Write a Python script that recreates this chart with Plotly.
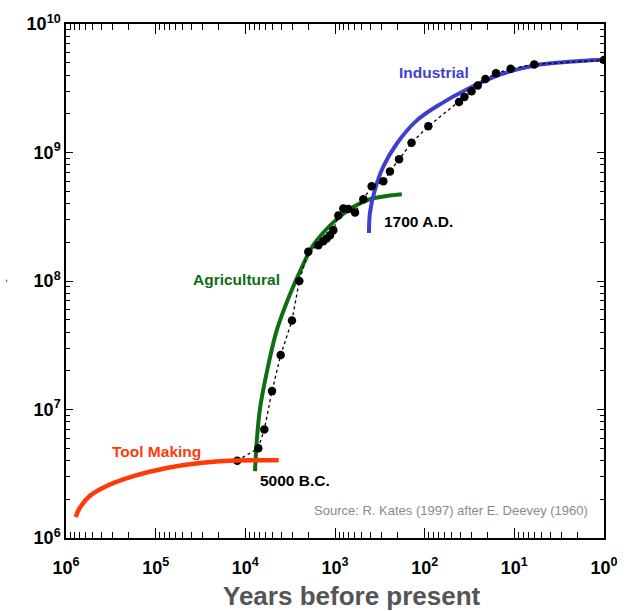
import plotly.graph_objects as go

# Observed world population (dots)
years_obs = [12300, 7170, 6140, 5040, 4036, 3020, 2500, 1986, 1535, 1352, 1240, 1137, 1044,
             918, 807, 711, 598, 483, 390, 289, 244, 193, 140, 91, 41.4, 36, 30, 25.6,
             21, 16, 11, 6.0, 1]
pop_obs = [4.0e6, 5.0e6, 7.0e6, 1.39e7, 2.65e7, 4.93e7, 1.0e8, 1.69e8, 1.90e8, 2.04e8, 2.14e8,
           2.27e8, 2.48e8, 3.23e8, 3.67e8, 3.63e8, 3.42e8, 4.33e8, 5.47e8, 5.97e8, 7.13e8,
           8.85e8, 1.19e9, 1.60e9, 2.47e9, 2.70e9, 3.0e9, 3.32e9, 3.73e9, 4.13e9, 4.48e9,
           4.85e9, 5.24e9]

# Tool making curve
tool_years = [780000, 698000, 540000, 352000, 177000, 75300, 32100, 13600, 4250]
tool_pop = [1.455e6, 1.73e6, 2.13e6, 2.54e6, 3.03e6, 3.51e6, 3.84e6, 4.01e6, 4.02e6]

# Agricultural curve
agri_years = [7800, 7464, 6871, 5781, 4467, 3177, 2455, 1746, 1045, 681, 407, 265, 180]
agri_pop = [3.31e6, 5.62e6, 1.01e7, 1.93e7, 4.13e7, 7.89e7, 1.19e8, 1.90e8, 2.86e8,
            3.63e8, 4.33e8, 4.59e8, 4.73e8]

# Industrial curve
ind_years = [418, 407, 358, 289, 205, 123, 67.5, 34.0, 14.45, 6.15, 1.85, 1]
ind_pop = [2.36e8, 3.42e8, 5.16e8, 7.78e8, 1.17e9, 1.77e9, 2.37e9, 3.09e9, 4.03e9,
           4.74e9, 5.15e9, 5.27e9]

x_tickvals = [1e6, 1e5, 1e4, 1e3, 1e2, 1e1, 1]
x_ticktext = ["<b>10<sup>6</sup></b>", "<b>10<sup>5</sup></b>", "<b>10<sup>4</sup></b>",
              "<b>10<sup>3</sup></b>", "<b>10<sup>2</sup></b>", "<b>10<sup>1</sup></b>",
              "<b>10<sup>0</sup></b>"]
y_tickvals = [1e6, 1e7, 1e8, 1e9, 1e10]
y_ticktext = ["<b>10<sup>6</sup></b>", "<b>10<sup>7</sup></b>", "<b>10<sup>8</sup></b>",
              "<b>10<sup>9</sup></b>", "<b>10<sup>10</sup></b>"]
minor_digits = [2, 3, 4, 5, 6, 7, 8, 9]
x_minor = [d * 10 ** e for e in range(0, 6) for d in minor_digits]
y_minor = [d * 10 ** e for e in range(6, 10) for d in minor_digits]

FONT = "Liberation Sans, Arial, sans-serif"

RED = "#FF3A0A"
GREEN = "#0E6E12"
BLUE = "#3F3FCF"

fig = go.Figure()
# tool curve sits on x3 (same range as x) which carries the x tick labels
fig.add_trace(go.Scatter(x=tool_years, y=tool_pop, mode="lines", xaxis="x3", yaxis="y",
                         line=dict(color=RED, width=4.5, shape="spline"),
                         showlegend=False, hoverinfo="skip"))
fig.add_trace(go.Scatter(x=agri_years, y=agri_pop, mode="lines", line=dict(color=GREEN, width=4, shape="spline"),
                         showlegend=False, hoverinfo="skip"))
fig.add_trace(go.Scatter(x=ind_years, y=ind_pop, mode="lines", line=dict(color=BLUE, width=4, shape="spline"),
                         showlegend=False, hoverinfo="skip"))
fig.add_trace(go.Scatter(x=years_obs, y=pop_obs, mode="lines+markers", xaxis="x2", yaxis="y2",
                         line=dict(color="black", width=1.3, dash="dot"),
                         marker=dict(color="black", size=8.5), showlegend=False))

L, R, T, B = 66, 26, 15, 74
W, H = 630, 612
pw, ph = W - L - R, H - T - B


def px(x):
    return (x - L) / pw


def py(y):
    return (H - B - y) / ph


annots = [
    dict(text="<b>Industrial</b>", x=px(434), y=py(64), font=dict(color=BLUE, size=15.5)),
    dict(text="<b>Agricultural</b>", x=px(236.5), y=py(275), font=dict(color=GREEN, size=15.5)),
    dict(text="<b>Tool Making</b>", x=px(156), y=py(450), font=dict(color=RED, size=15.5)),
    dict(text="<b>1700 A.D.</b>", x=px(418.5), y=py(215.5), font=dict(color="black", size=15.5)),
    dict(text="<b>5000 B.C.</b>", x=px(295), y=py(480), font=dict(color="black", size=15.5)),
    dict(text="Source: R. Kates (1997) after E. Deevey (1960)", x=px(450.5), y=py(510),
         font=dict(color="#8a8a8a", size=13)),
    dict(text="<b>Years before present</b>", x=px(351.5), y=py(597),
         font=dict(color="#555555", size=26)),
    dict(text="-", x=px(5), y=py(277), textangle=-90, font=dict(color="#333333", size=10)),
]
for a in annots:
    a["font"]["family"] = FONT
    a.update(xref="paper", yref="paper", showarrow=False, xanchor="center", yanchor="middle")

common = dict(autorange=False, showgrid=False, zeroline=False, tickcolor="#000000", tickwidth=1.2,
              layer="above traces")

fig.update_layout(
    template="simple_white",
    width=W, height=H,
    margin=dict(l=L, r=R, t=T, b=B, pad=0),
    plot_bgcolor="white", paper_bgcolor="white",
    annotations=annots,
    xaxis=dict(type="log", range=[6, 0],
               tickmode="array", tickvals=x_tickvals, showticklabels=False,
               ticks="inside", ticklen=10,
               showline=True, linecolor="black", linewidth=1.5, mirror="ticks", **common),
    yaxis=dict(type="log", range=[6, 10],
               tickmode="array", tickvals=y_tickvals, ticktext=y_ticktext,
               ticks="inside", ticklen=7,
               showline=True, linecolor="black", linewidth=1.5, mirror="ticks",
               tickfont=dict(family=FONT, size=18, color="black"), **common),
    xaxis2=dict(type="log", range=[6, 0], overlaying="x", anchor="y2", side="bottom",
                tickmode="array", tickvals=x_minor, showticklabels=False,
                ticks="inside", ticklen=6, showline=False, mirror="ticks", **common),
    yaxis2=dict(type="log", range=[6, 10], overlaying="y", anchor="x2", side="left",
                tickmode="array", tickvals=y_minor, showticklabels=False,
                ticks="inside", ticklen=4, showline=False, mirror="ticks", **common),
    xaxis3=dict(type="log", range=[6, 0], overlaying="x", anchor="y", side="bottom",
                tickmode="array", tickvals=x_tickvals, ticktext=x_ticktext,
                ticks="outside", ticklen=13, tickcolor="rgba(0,0,0,0)", showline=False,
                autorange=False, showgrid=False, zeroline=False,
                tickfont=dict(family=FONT, size=18, color="black")),
)

fig.write_html("out.html")
